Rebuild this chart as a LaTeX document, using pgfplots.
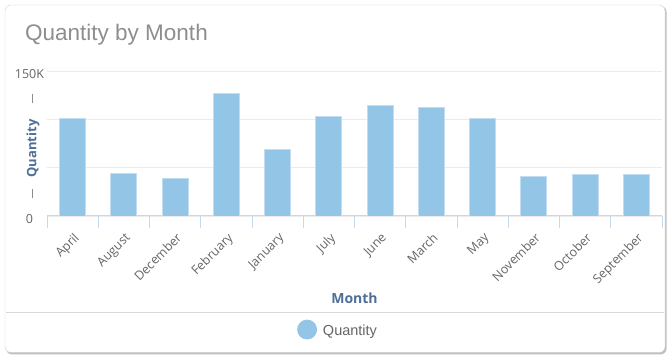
\documentclass[border=0pt]{standalone}
\usepackage{pgfplots}
\pgfplotsset{compat=1.18}
\usepackage{fontspec}
\setmainfont{Open Sans}
\newfontfamily\titlefont{Liberation Sans}
\definecolor{barblue}{HTML}{93C5E6}
\definecolor{baredge}{HTML}{C2DDF1}
\definecolor{axisblue}{HTML}{C5D9EC}
\definecolor{labelblue}{HTML}{4E6F98}
\definecolor{ticktext}{HTML}{666666}
\definecolor{gridc}{HTML}{EBEBEB}
\definecolor{titlegray}{HTML}{8E8E8E}
\begin{document}
\begin{tikzpicture}[x=1pt,y=1pt]
\useasboundingbox (0,0) rectangle (670,359);
% card
\fill[black!25,rounded corners=6pt] (6,4.5) rectangle (666.5,353);
\filldraw[fill=white,draw=black!18,rounded corners=6pt] (5,6.5) rectangle (665,354);
\node[anchor=base west,font=\titlefont\fontsize{22.5}{26}\selectfont,text=titlegray,inner sep=0pt] at (25,318) {Quantity by Month};
\draw[black!15,line width=0.8pt] (6,47) -- (664,47);
\begin{axis}[
  at={(47pt,143pt)}, anchor=south west,
  scale only axis, width=615pt, height=145pt,
  xmin=-0.5, xmax=11.5, ymin=0, ymax=150000,
  scaled y ticks=false,
  axis lines*=left,
  x axis line style={draw=axisblue,line width=1pt},
  y axis line style={draw=none},
  xtick={0,...,11},
  xticklabels={April,August,December,February,January,July,June,March,May,November,October,September},
  minor xtick={-0.5,0.5,...,11.5},
  major tick length=0pt,
  minor tick length=12pt,
  tick align=outside,
  x tick style={draw=axisblue,line width=0.8pt},
  y tick style={draw=none},
  ytick={0,50000,100000,150000},
  yticklabels={0,,,150K},
  ymajorgrids,
  grid style={draw=gridc,line width=0.8pt},
  xticklabel style={rotate=45,anchor=north east,font=\fontsize{12.5}{14}\selectfont,text=ticktext,yshift=-8.2pt,xshift=-7.5pt},
  yticklabel style={anchor=center,xshift=-17.5pt,yshift=-3pt,font=\fontsize{12.5}{14}\selectfont,text=ticktext},
  /pgf/number format/assume math mode=true,
  xlabel={Month},
  xlabel style={at={(axis description cs:0.5,-0.566)},anchor=center,font=\bfseries\fontsize{14}{16}\selectfont,text=labelblue},
  ylabel={\textcolor{black!45}{\rule[0.3em]{9pt}{0.9pt}}\hspace{12pt}Quantity\hspace{16pt}\textcolor{black!45}{\rule[0.3em]{9pt}{0.9pt}}},
  ylabel style={at={(axis description cs:-0.0228,0.48)},anchor=center,font=\bfseries\fontsize{13}{15}\selectfont,text=labelblue},
  legend style={at={(axis description cs:0.4065,-0.783)},anchor=west,draw=none,fill=none,inner sep=0pt,
    nodes={inner sep=0pt},
    /tikz/every odd column/.append style={column sep=6pt},
    font=\titlefont\fontsize{14.5}{16}\selectfont,text=ticktext,legend cell align=left},
  legend image code/.code={\fill[barblue] (9.5pt,0.15em) circle (9.5pt);},
]
\addplot[ybar, bar width=26pt, fill=barblue, draw=baredge, line width=0.8pt] coordinates {
 (0,101000) (1,43900) (2,38700) (3,126800) (4,68800) (5,103300)
 (6,114400) (7,112600) (8,101200) (9,41100) (10,43200) (11,42800)};
\addlegendentry{Quantity}
\end{axis}
\end{tikzpicture}
\end{document}
